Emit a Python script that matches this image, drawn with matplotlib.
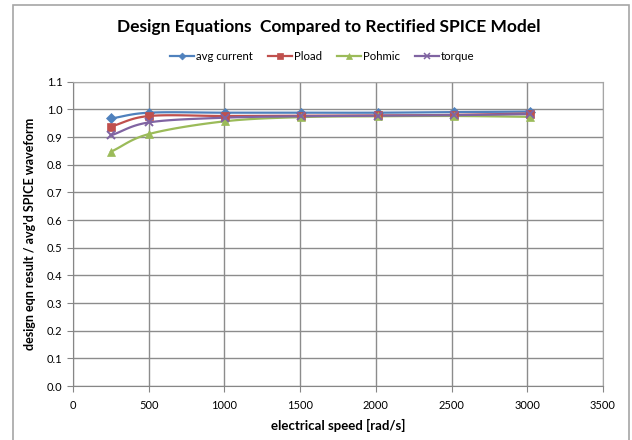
import numpy as np
import matplotlib
matplotlib.use("Agg")
import matplotlib.pyplot as plt
from matplotlib.patches import Rectangle

plt.rcParams['font.family'] = ['Lato', 'DejaVu Sans']

speed = [251, 503, 1005, 1508, 2011, 2513, 3016]
avg_current = [0.967, 0.988, 0.988, 0.988, 0.988, 0.990, 0.992]
pload = [0.938, 0.976, 0.976, 0.977, 0.978, 0.980, 0.985]
pohmic = [0.847, 0.911, 0.957, 0.972, 0.975, 0.976, 0.973]
torque = [0.906, 0.953, 0.970, 0.975, 0.977, 0.979, 0.983]

series = [
    ("avg current", avg_current, "#4F81BD", "D", 5),
    ("Pload", pload, "#C0504D", "s", 6),
    ("Pohmic", pohmic, "#9BBB59", "^", 6),
    ("torque", torque, "#8064A2", "x", 6),
]


def smooth(x, y, n=20):
    x = np.asarray(x, float)
    y = np.asarray(y, float)
    px = np.concatenate([[2 * x[0] - x[1]], x, [2 * x[-1] - x[-2]]])
    py = np.concatenate([[2 * y[0] - y[1]], y, [2 * y[-1] - y[-2]]])
    ox, oy = [], []
    for i in range(1, len(px) - 2):
        t = np.linspace(0, 1, n, endpoint=False)
        p0x, p1x, p2x, p3x = px[i - 1:i + 3]
        p0y, p1y, p2y, p3y = py[i - 1:i + 3]
        s = 0.5
        m1x, m2x = s * (p2x - p0x), s * (p3x - p1x)
        m1y, m2y = s * (p2y - p0y), s * (p3y - p1y)
        h00 = 2 * t**3 - 3 * t**2 + 1
        h10 = t**3 - 2 * t**2 + t
        h01 = -2 * t**3 + 3 * t**2
        h11 = t**3 - t**2
        ox.append(h00 * p1x + h10 * m1x + h01 * p2x + h11 * m2x)
        oy.append(h00 * p1y + h10 * m1y + h01 * p2y + h11 * m2y)
    ox.append([x[-1]])
    oy.append([y[-1]])
    return np.concatenate(ox), np.concatenate(oy)


W, H = 632, 440
fig = plt.figure(figsize=(W / 100, H / 100), dpi=100)

# chart border
fig.patches.append(Rectangle((13 / W, -0.05), (629 - 13) / W, (H - 5) / H + 0.05,
                             transform=fig.transFigure, fill=False,
                             edgecolor="#A6A6A6", linewidth=1.2))

ax = fig.add_axes([73 / W, (H - 386) / H, (603 - 73) / W, (386 - 81.7) / H])

for name, vals, color, marker, ms in series:
    sx, sy = smooth(speed, vals)
    ax.plot(sx, sy, color=color, linewidth=1.6, zorder=3)
    ax.plot(speed, vals, linestyle="none", marker=marker, color=color,
            markersize=ms, markeredgewidth=1.4 if marker == "x" else 0.5, zorder=4)
    ax.plot([], [], color=color, linewidth=1.6, marker=marker, markersize=ms - 1.5,
            markeredgewidth=1.1 if marker == "x" else 0.5, label=name)

ax.set_xlim(0, 3500)
ax.set_ylim(0, 1.1)
ax.set_xticks(np.arange(0, 3501, 500))
ax.set_yticks(np.arange(0, 1.101, 0.1))
ax.set_yticklabels([f"{v:.1f}" for v in np.arange(0, 1.101, 0.1)])
ax.grid(True, color="#8C8C8C", linewidth=1)
ax.set_axisbelow(True)
for sp in ["top", "right"]:
    ax.spines[sp].set_color("#A6A6A6")
for sp in ["left", "bottom"]:
    ax.spines[sp].set_color("#868686")
ax.tick_params(axis="both", labelsize=8, color="#868686", length=4, direction="out")
ax.tick_params(axis="x", pad=6)

ax.set_xlabel("electrical speed [rad/s]", fontsize=9.5, fontweight="bold", labelpad=6)
ax.set_ylabel("design eqn result / avg'd SPICE waveform", fontsize=9,
              fontweight="bold", labelpad=8)

fig.text(329 / W, 1 - 26.7 / H, "Design Equations  Compared to Rectified SPICE Model",
         ha="center", va="center", fontsize=12.5, fontweight="bold")

fig.legend(loc="center", bbox_to_anchor=(322 / W, 1 - 56.7 / H), ncol=4,
           frameon=False, fontsize=8.2, handlelength=2.15, columnspacing=1.3,
           handletextpad=0.15)

fig.savefig("out.png", dpi=100)
